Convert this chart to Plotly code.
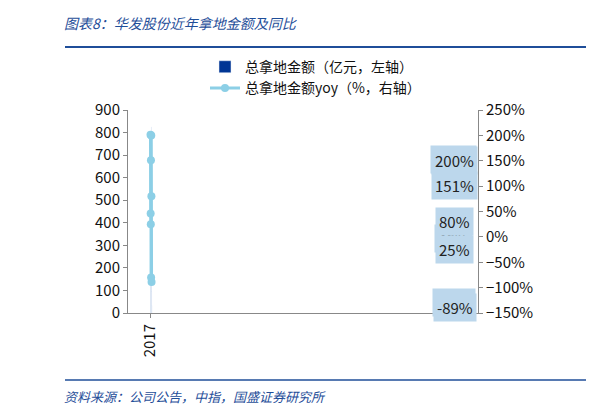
import plotly.graph_objects as go

years = ["2017", "2018", "2019", "2020", "2021", "2022", "2023", "2024", "2025H1"]
amount = [170, 245, 270, 770, 150, 460, 825, 95, 35]
yoy_years = ["2017", "2018", "2019", "2020", "2021", "2022", "2023", "2024"]
yoy = [201, 46, 25, 151, -80, 200, 80, -89]

font = "Noto Sans CJK SC"
fig = go.Figure()
fig.add_trace(go.Bar(x=years, y=amount, name="总拿地金额（亿元，左轴）",
                     marker_color="#003594", width=0.4))
fig.add_trace(go.Scatter(x=yoy_years, y=yoy, yaxis="y2", name="总拿地金额yoy（%，右轴）",
                         mode="lines+markers", line=dict(color="#8ccfe6", width=3, shape="spline"),
                         marker=dict(size=8, color="#8ccfe6")))
for x, v in zip(yoy_years, yoy):
    fig.add_annotation(x=x, y=v, yref="y2", text=f"{v}%", showarrow=False, yshift=-25,
                       bgcolor="#bcd7ec", font=dict(size=15, color="#222"), borderpad=3)

fig.add_annotation(xref="paper", yref="paper", x=-0.19, y=1.43, xanchor="left", yanchor="middle",
                   text="<i>图表8：华发股份近年拿地金额及同比</i>",
                   showarrow=False, font=dict(size=14, color="#1f4e99"))
fig.add_annotation(xref="paper", yref="paper", x=-0.19, y=-0.41, xanchor="left", yanchor="middle",
                   text="<i>资料来源：公司公告，中指，国盛证券研究所</i>",
                   showarrow=False, font=dict(size=13, color="#1f4e99"))
fig.add_shape(type="line", xref="paper", yref="paper", x0=-0.18, x1=1.31, y0=1.31, y1=1.31,
              line=dict(color="#1f4e99", width=2))
fig.add_shape(type="line", xref="paper", yref="paper", x0=-0.18, x1=1.31, y0=-0.33, y1=-0.33,
              line=dict(color="#1f4e99", width=1.5))

fig.update_layout(
    width=594, height=415, margin=dict(l=120, r=124, t=102, b=110),
    plot_bgcolor="white", paper_bgcolor="white",
    font=dict(family=font, size=15, color="#111"),
    showlegend=True,
    legend=dict(x=0.22, y=1.29, xanchor="left", yanchor="top", font=dict(size=14),
                tracegroupgap=0, bgcolor="rgba(0,0,0,0)"),
    xaxis=dict(type="category", tickangle=-90, showline=True, linecolor="#888",
               ticks="outside", ticklen=4, tickcolor="#888"),
    yaxis=dict(range=[0, 900], dtick=100, showgrid=False, showline=True, linecolor="#888",
               ticks="outside", tickcolor="#888", ticklen=4, zeroline=False),
    yaxis2=dict(range=[-150, 250], dtick=50, overlaying="y", side="right", showgrid=False,
                showline=True, linecolor="#888", ticks="outside", tickcolor="#888", ticklen=4,
                ticksuffix="%", zeroline=False),
    bargap=0.5,
)
fig.write_html("out.html")
